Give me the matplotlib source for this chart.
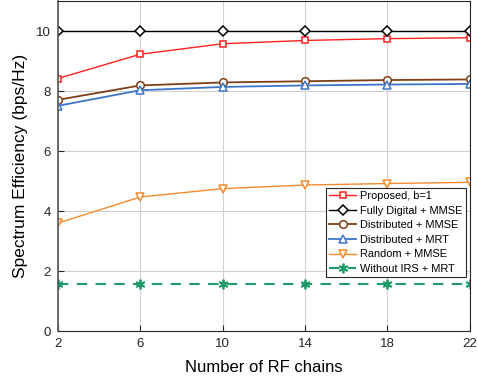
import matplotlib.pyplot as plt

plt.rcParams['font.family'] = ['Liberation Sans', 'DejaVu Sans']

rf_chains = [2, 6, 10, 14, 18, 22]
proposed = [8.42, 9.23, 9.58, 9.69, 9.75, 9.78]
fully_digital = [10.0, 10.0, 10.0, 10.0, 10.0, 10.0]
dist_mmse = [7.71, 8.19, 8.29, 8.33, 8.37, 8.39]
dist_mrt = [7.51, 8.03, 8.14, 8.19, 8.22, 8.24]
random_mmse = [3.6, 4.47, 4.75, 4.87, 4.92, 4.96]
no_irs_mrt = [1.58, 1.58, 1.58, 1.58, 1.58, 1.58]

fig = plt.figure(figsize=(4.78, 3.85), dpi=100)
ax = fig.add_axes([0.121, 0.14, 0.862, 0.857])

ax.plot(rf_chains, proposed, color='#ff2020', marker='s', mfc='white', ms=5, mew=1.1,
        lw=1.0, label='Proposed, b=1')
ax.plot(rf_chains, fully_digital, color='black', marker='D', mfc='white', ms=4.8, mew=1.1,
        lw=1.0, label='Fully Digital + MMSE')
ax.plot(rf_chains, dist_mmse, color='#7e3f17', marker='o', mfc='white', ms=5.5, mew=1.1,
        lw=1.3, label='Distributed + MMSE')
ax.plot(rf_chains, dist_mrt, color='#3e74c8', marker='^', mfc='white', ms=5.8, mew=1.1,
        lw=1.3, label='Distributed + MRT')
ax.plot(rf_chains, random_mmse, color='#f58a2a', marker='v', mfc='white', ms=5.8, mew=1.1,
        lw=1.0, label='Random + MMSE')
ax.plot(rf_chains, no_irs_mrt, color='#1f9a6a', marker=(6, 2, 0), ms=7, mew=1.3, lw=1.5,
        ls=(0, (5, 4)), label='Without IRS + MRT')

ax.set_xlim(2, 22)
ax.set_ylim(0, 11)
ax.set_xticks(rf_chains)
ax.set_yticks([0, 2, 4, 6, 8, 10])
ax.grid(True, color='#d0d0d0', lw=0.8)
ax.set_axisbelow(True)
ax.tick_params(direction='in', length=4, labelsize=9.5, colors='#262626', pad=5)
for s in ax.spines.values():
    s.set_color('#262626')
ax.spines['left'].set_color('#555555')
ax.spines['left'].set_linewidth(1.2)

ax.set_xlabel('Number of RF chains', fontsize=12, labelpad=7)
ax.set_ylabel('Spectrum Efficiency (bps/Hz)', fontsize=12.5, labelpad=6)

leg = ax.legend(loc='lower right', bbox_to_anchor=(0.99, 0.163), fontsize=7.9,
                fancybox=False, edgecolor='#262626', framealpha=1,
                handlelength=2.4, handletextpad=0.4, labelspacing=0.42,
                borderpad=0.3, borderaxespad=0)
leg.get_frame().set_linewidth(0.8)

fig.savefig('out.png', dpi=100)
